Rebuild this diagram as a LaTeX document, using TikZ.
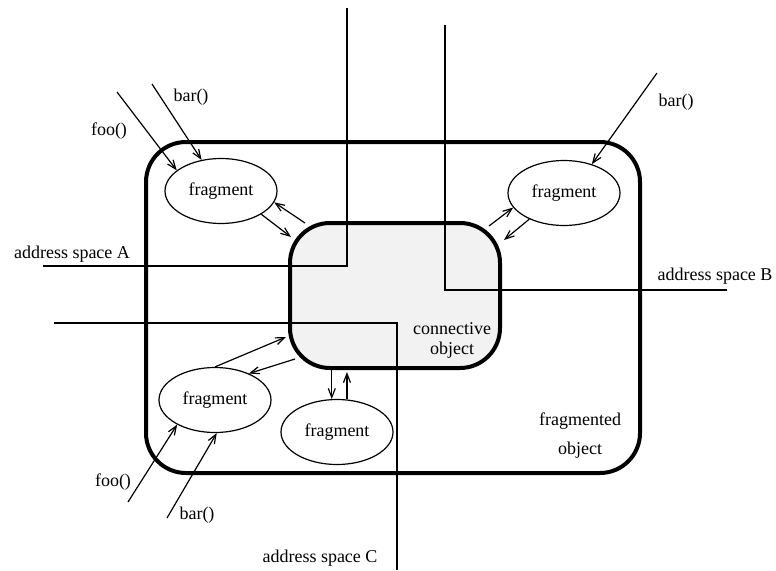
\documentclass[tikz,border=0pt]{standalone}
\usepackage{fontspec}
\setmainfont{Liberation Serif}
\usetikzlibrary{arrows.meta,calc,shapes.geometric}
\definecolor{connfill}{gray}{0.95}

\begin{document}
\begin{tikzpicture}[
        x=1pt, y=-1pt,
        font=\fontsize{18}{20}\selectfont,
        >={Straight Barb[length=9pt,width=7pt]},
        thin line/.style={line width=1.2pt},
        frag/.style={draw, ellipse, thin line, minimum width=112pt, minimum height=65pt, inner sep=0pt},
        thick box/.style={draw, line width=4pt, rounded corners=40pt, inner sep=0pt}]
        \useasboundingbox (0,0) rectangle (776,570);
        % NODES
        % fragmented object
        \node[thick box, minimum width=494pt, minimum height=331pt] (fobj) at (393,307.5) {};
        \node[align=center, font=\fontsize{18}{29}\selectfont] (fobjlbl) at (580,435.5) {fragmented\\object};
        % connective object
        \node[thick box, fill=connfill, minimum width=210pt, minimum height=145pt] (conn) at (395,295.5) {};
        \node[align=center] (connlbl) at (452,340) {connective\\object};
        % fragments
        \node[frag] (f1) at (221,191) {fragment};
        \node[frag] (f2) at (564,193) {fragment};
        \node[frag] (f3) at (215,400) {fragment};
        \node[frag] (f4) at (337,432) {fragment};

        % ADDRESS SPACES
        \coordinate (asA) at (347,8);
        \coordinate (asAend) at (43,266);
        \coordinate (asB) at (445,25);
        \coordinate (asBend) at (727,290);
        \coordinate (asC) at (54,323);
        \coordinate (asCend) at (397,570);
        \draw[thin line] (asA) |- (asAend);
        \draw[thin line] (asB) |- (asBend);
        \draw[thin line] (asC) -| (asCend);
        \node (lblA) at (72,254) {address space A};
        \node (lblB) at (715,276) {address space B};
        \node (lblC) at (320,558) {address space C};

        % CALLS
        \coordinate (fooA) at (117,92);
        \coordinate (barA) at (152,84);
        \coordinate (barB) at (657,73);
        \coordinate (fooC) at (128,502);
        \coordinate (barC) at (167,518);
        \draw[thin line, ->] (fooA) -- (f1.155);
        \draw[thin line, ->] (barA) -- (f1.122);
        \draw[thin line, ->] (barB) -- (f2.46);
        \draw[thin line, ->] (fooC) -- (f3.213);
        \draw[thin line, ->] (barC) -- (f3.-87);
        \node (lblfooA) at (109,131) {foo()};
        \node (lblbarA) at (191,97) {bar()};
        \node (lblbarB) at (676,102) {bar()};
        \node (lblfooC) at (113,482) {foo()};
        \node (lblbarC) at (197,515) {bar()};

        % ARROWS
        \draw[thin line, ->] (f1.-30) -- ($(conn.north west)+(3,16)$);
        \draw[thin line, ->] ($(conn.north west)+(17,2)$) -- (f1.-12);
        \draw[thin line, ->] ($(conn.north east)+(-13,5)$) -- (f2.196);
        \draw[thin line, ->] (f2.217) -- ($(conn.north east)+(2,19)$);
        \draw[thin line, ->] (f3.north) -- ($(conn.north west)+(-2,116)$);
        \draw[thin line, ->] ($(conn.south west)+(7,-11)$) -- (f3.38);
        \draw[thin line, ->] (conn.south -| f4.99) -- (f4.99);
        \draw[thin line, ->, shorten >=2pt] (f4.73) -- (conn.south -| f4.73);
    \end{tikzpicture}
\end{document}
